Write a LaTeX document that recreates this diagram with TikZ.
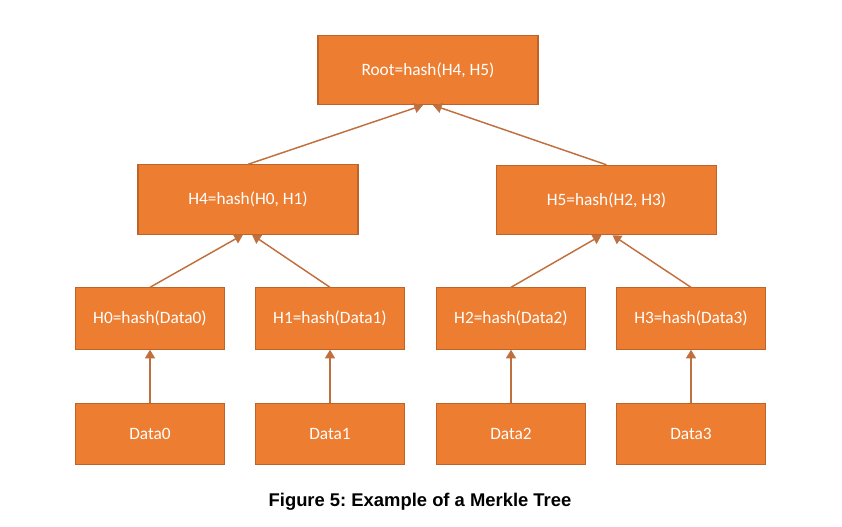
\documentclass[tikz,border=0pt]{standalone}
\usepackage{fontspec}
\setmainfont{Carlito}
\newfontfamily\captionfont{Liberation Sans}
\usetikzlibrary{calc, positioning, arrows.meta}
\definecolor{boxfill}{RGB}{237,125,49}
\definecolor{boxline}{RGB}{190,100,40}
\definecolor{linkline}{RGB}{192,112,62}
\tikzstyle{hashbox}=[draw=boxline, line width=0.8pt, fill=boxfill, text=white, inner sep=0pt, font=\fontsize{13}{15}\selectfont]
\tikzstyle{bigbox}=[hashbox, minimum width=165pt, minimum height=52pt]
\tikzstyle{leafbox}=[hashbox, minimum width=111.75pt, minimum height=46pt]
\tikzstyle{link}=[draw=linkline, line width=1.1pt, -{Triangle[width=7.5pt,length=6.5pt]}]
\frenchspacing

\begin{document}
\begin{tikzpicture}[x=0.75pt, y=-0.75pt]

		%fix the page size
		\useasboundingbox (0,0) rectangle (842,526);

		%draw the root and the inner hashes
		\node[bigbox] (root) at (428,70) {Root=hash(H4, H5)};
		\node[bigbox] (h4) at (248,199.5) {H4=hash(H0, H1)};
		\node[bigbox] (h5) at (606.5,200) {H5=hash(H2, H3)};

		%draw the leaf hashes and the data blocks
		\foreach \i/\xpos in {0/150, 1/330, 2/511, 3/691}{
			\node[leafbox] (h\i) at (\xpos,318.5) {H\i=hash(Data\i)};
			\node[leafbox] (d\i) at (\xpos,434) {Data\i};
			\draw[link] (d\i.north) -- (h\i.south);
		}

		%connect the hashes upwards
		\draw[link] (h0.north) -- ($(h4.south)+(-5,0)$);
		\draw[link] (h1.north) -- ($(h4.south)+(4,0)$);
		\draw[link] (h2.north) -- ($(h5.south)+(-5,0)$);
		\draw[link] (h3.north) -- ($(h5.south)+(6,0)$);
		\draw[link] (h4.north) -- ($(root.south)+(-5,0)$);
		\draw[link] (h5.north) -- ($(root.south)+(5,0)$);

		\node[font=\captionfont\bfseries\fontsize{13.8}{16}\selectfont] (caption) at (420,502) {Figure 5: Example of a Merkle Tree};

	\end{tikzpicture}
\end{document}
